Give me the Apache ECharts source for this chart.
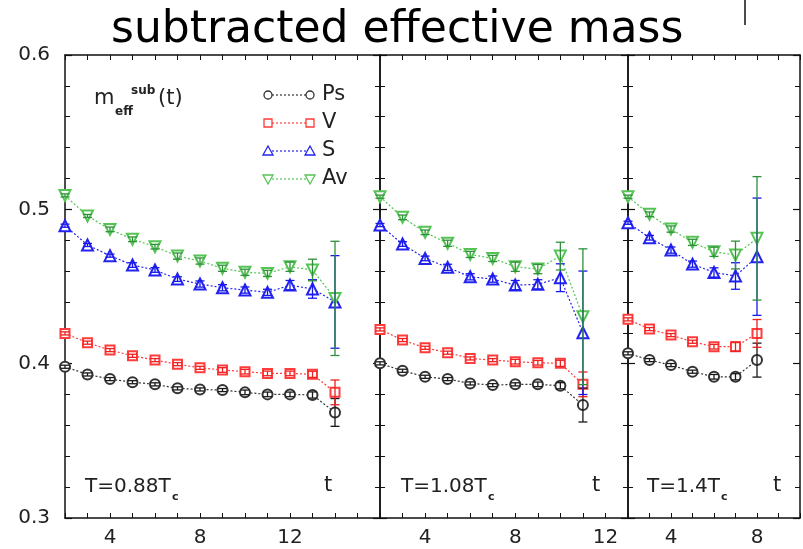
<!DOCTYPE html>
<html><head><meta charset="utf-8">
<script src="https://cdn.jsdelivr.net/npm/echarts@6/dist/echarts.min.js"></script>
<style>html,body{margin:0;padding:0;background:#fff}#c{width:803px;height:549px}</style>
</head><body><div id="c"></div>
<script>
// ---- data ----
const T1 = [2,3,4,5,6,7,8,9,10,11,12,13,14];
const PS1 = [0.398,0.393,0.390,0.388,0.3866,0.384,0.3833,0.3829,0.3814,0.3801,0.3801,0.3797,0.3684];
const V1  = [0.4196,0.4136,0.4088,0.4051,0.4023,0.3997,0.3973,0.3959,0.3948,0.3937,0.3937,0.3931,0.3814];
const S1  = [0.4894,0.4769,0.470,0.4639,0.4607,0.4548,0.4516,0.4492,0.4477,0.4462,0.4509,0.4484,0.440];
const AV1 = [0.509,0.4957,0.487,0.4806,0.4758,0.4697,0.4665,0.4618,0.4592,0.4585,0.4628,0.4607,0.4423];
const PS1E = [0.001,0.001,0.001,0.001,0.001,0.001,0.001,0.001,0.0015,0.0015,0.0015,0.002,0.009];
const V1E  = [0.001,0.001,0.001,0.001,0.001,0.001,0.001,0.0015,0.0015,0.0015,0.0015,0.002,0.008];
const S1E  = [0.001,0.001,0.001,0.0015,0.0015,0.0015,0.002,0.002,0.002,0.002,0.003,0.006,0.030];
const AV1E = [0.001,0.001,0.0015,0.0015,0.0015,0.002,0.002,0.002,0.002,0.002,0.003,0.007,0.037];

const T2 = [2,3,4,5,6,7,8,9,10,11];
const PS2 = [0.4002,0.3954,0.3915,0.390,0.3872,0.3861,0.3866,0.3866,0.3857,0.3732];
const V2  = [0.4222,0.4153,0.4103,0.4071,0.4034,0.4023,0.4013,0.4006,0.4002,0.3866];
const S2  = [0.4898,0.4775,0.4682,0.4624,0.4563,0.4548,0.4509,0.4514,0.4557,0.420];
const AV2 = [0.5082,0.4948,0.4851,0.478,0.4708,0.4682,0.4628,0.4613,0.4697,0.4304];
const PS2E = [0.001,0.001,0.001,0.001,0.001,0.001,0.001,0.0015,0.002,0.011];
const V2E  = [0.001,0.001,0.001,0.001,0.001,0.001,0.0015,0.0015,0.002,0.008];
const S2E  = [0.001,0.0015,0.0015,0.002,0.002,0.002,0.003,0.003,0.009,0.040];
const AV2E = [0.001,0.0015,0.0015,0.002,0.002,0.002,0.003,0.003,0.009,0.044];

const T3 = [2,3,4,5,6,7,8];
const PS3 = [0.4067,0.4023,0.3991,0.3948,0.3915,0.3915,0.4023];
const V3  = [0.4287,0.4224,0.4185,0.4142,0.411,0.411,0.4196];
const S3  = [0.4913,0.4816,0.4736,0.4645,0.4591,0.4568,0.4693];
const AV3 = [0.5082,0.4968,0.4872,0.4786,0.4725,0.4704,0.4812];
const PS3E = [0.001,0.001,0.001,0.001,0.0015,0.002,0.011];
const V3E  = [0.001,0.001,0.001,0.001,0.0015,0.003,0.009];
const S3E  = [0.001,0.0015,0.002,0.002,0.003,0.0086,0.038];
const AV3E = [0.001,0.0015,0.002,0.002,0.003,0.009,0.040];

const X_MIN = 2;
const X_MAX = [16, 13, 10];
const Y_MIN = 0.3, Y_MAX = 0.6, Y_STEP = 0.1;
const SERIES_NAMES = ['Ps','V','S','Av'];
const PANEL_TEMPS = ['T=0.88T','T=1.08T','T=1.4T'];
const TITLE = 'subtracted effective mass';

// ---- styling ----
const LINE_COL = ['#333333','#ff3b3b','#2323f0','#55c455'];
const ERR_COL  = ['#1a1a1a','#ee2020','#1818ee','#2f8f3a'];
const SYMBOL   = ['emptyCircle','emptyRect','emptyTriangle','emptyTriangle'];
const SYM_ROT  = [0,0,0,180];
const SYM_SIZE = [10,9,11,11];
const FONT = '"DejaVu Sans", sans-serif';

const panels = [
  {t:T1, vals:[PS1,V1,S1,AV1], errs:[PS1E,V1E,S1E,AV1E]},
  {t:T2, vals:[PS2,V2,S2,AV2], errs:[PS2E,V2E,S2E,AV2E]},
  {t:T3, vals:[PS3,V3,S3,AV3], errs:[PS3E,V3E,S3E,AV3E]}
];
const gridPos = [{left:65,width:315},{left:380,width:248},{left:628,width:178}];

const grid = gridPos.map(g => ({left:g.left, width:g.width, top:55, height:463}));
const axisLineStyle = {color:'#111', width:1.5};
const xAxis = [], yAxis = [];
for (let p=0;p<3;p++){
  xAxis.push({type:'value', gridIndex:p, min:X_MIN, max:X_MAX[p], interval:1, position:'bottom',
    axisLine:{show:true, onZero:false, lineStyle:axisLineStyle},
    axisTick:{show:true, inside:true, length:5, lineStyle:{color:'#111', width:1}},
    splitLine:{show:false},
    axisLabel:{show:true, fontFamily:FONT, fontSize:20, color:'#222', margin:10,
      formatter: v => (v%4===0 && v<X_MAX[p]) ? String(v) : ''}});
}
for (let p=0;p<3;p++){
  xAxis.push({type:'value', gridIndex:p, min:X_MIN, max:X_MAX[p], interval:1, position:'top',
    axisLine:{show:true, onZero:false, lineStyle:axisLineStyle},
    axisTick:{show:true, inside:true, length:5, lineStyle:{color:'#111', width:1}},
    splitLine:{show:false}, axisLabel:{show:false}});
}
for (let p=0;p<3;p++){
  yAxis.push({type:'value', gridIndex:p, min:Y_MIN, max:Y_MAX, interval:Y_STEP, position:'left',
    axisLine:{show:true, onZero:false, lineStyle:axisLineStyle},
    axisTick:{show:true, inside:true, length:7, lineStyle:{color:'#111', width:1.2}},
    minorTick:{show:true, splitNumber:5, length:5, lineStyle:{color:'#111', width:1}},
    splitLine:{show:false}, minorSplitLine:{show:false},
    axisLabel:{show:p===0, fontFamily:FONT, fontSize:20, color:'#222', margin:15,
      formatter: v => v.toFixed(1)}});
}
for (let p=0;p<3;p++){
  yAxis.push({type:'value', gridIndex:p, min:Y_MIN, max:Y_MAX, interval:Y_STEP, position:'right',
    axisLine:{show:true, onZero:false, lineStyle:axisLineStyle},
    axisTick:{show:true, inside:true, length:7, lineStyle:{color:'#111', width:1.2}},
    minorTick:{show:true, splitNumber:5, length:5, lineStyle:{color:'#111', width:1}},
    splitLine:{show:false}, axisLabel:{show:false}});
}

function errRender(color){
  return function(params, api){
    const lo = api.coord([api.value(0), api.value(1)]);
    const hi = api.coord([api.value(0), api.value(2)]);
    const w = 4.5;
    const st = {stroke:color, lineWidth:1.3};
    return {type:'group', children:[
      {type:'line', shape:{x1:lo[0],y1:lo[1],x2:hi[0],y2:hi[1]}, style:st},
      {type:'line', shape:{x1:lo[0]-w,y1:lo[1],x2:lo[0]+w,y2:lo[1]}, style:st},
      {type:'line', shape:{x1:hi[0]-w,y1:hi[1],x2:hi[0]+w,y2:hi[1]}, style:st}
    ]};
  };
}

const series = [];
panels.forEach((pn,p)=>{
  for (let k=0;k<4;k++){
    series.push({type:'line', name:SERIES_NAMES[k], xAxisIndex:p, yAxisIndex:p,
      data: pn.t.map((t,i)=>[t, pn.vals[k][i]]),
      symbol:SYMBOL[k], symbolRotate:SYM_ROT[k], symbolSize:SYM_SIZE[k], clip:false,
      itemStyle:{color:LINE_COL[k], borderWidth:1.2},
      lineStyle:{color:LINE_COL[k], width:1.2, type:[2,2]}, z:2});
    series.push({type:'custom', xAxisIndex:p, yAxisIndex:p, clip:false,
      data: pn.t.map((t,i)=>[t, pn.vals[k][i]-pn.errs[k][i], pn.vals[k][i]+pn.errs[k][i]]),
      encode:{x:0, y:[1,2]}, renderItem: errRender(ERR_COL[k]), z:3});
  }
});

// legend (drawn as graphic)
const graphic = [];
const legX1 = 268, legX2 = 310, legTextX = 322, legY = [95,123,151,179];
function legSymbol(k, cx, cy){
  const st = {fill:'#fff', stroke:LINE_COL[k], lineWidth:1.3};
  if (k===0) return {type:'circle', shape:{cx, cy, r:4}, style:st, z:10};
  if (k===1) return {type:'rect', shape:{x:cx-4, y:cy-4, width:8, height:8}, style:st, z:10};
  if (k===2) return {type:'polygon', shape:{points:[[cx,cy-5],[cx+5,cy+4],[cx-5,cy+4]]}, style:st, z:10};
  return {type:'polygon', shape:{points:[[cx,cy+5],[cx+5,cy-4],[cx-5,cy-4]]}, style:st, z:10};
}
for (let k=0;k<4;k++){
  graphic.push({type:'line', shape:{x1:legX1,y1:legY[k],x2:legX2,y2:legY[k]},
    style:{stroke:LINE_COL[k], lineWidth:1.2, lineDash:[2,2]}, z:9});
  graphic.push(legSymbol(k, legX1, legY[k]));
  graphic.push(legSymbol(k, legX2, legY[k]));
  graphic.push({type:'text', x:legTextX, y:legY[k], z:10,
    style:{text:SERIES_NAMES[k], font:'21px '+FONT, fill:'#222', verticalAlign:'middle'}});
}
// m_eff^sub(t)
graphic.push({type:'text', x:94, y:99, style:{text:'m', font:'21px '+FONT, fill:'#222', verticalAlign:'middle'}});
graphic.push({type:'text', x:115, y:112, style:{text:'eff', font:'bold 12px '+FONT, fill:'#222', verticalAlign:'middle'}});
graphic.push({type:'text', x:131, y:91, style:{text:'sub', font:'bold 12px '+FONT, fill:'#222', verticalAlign:'middle'}});
graphic.push({type:'text', x:158, y:99, style:{text:'(t)', font:'21px '+FONT, fill:'#222', verticalAlign:'middle'}});
// temperature labels and "t"
const tempX = [85, 401, 647], cX = [172, 488, 721], tX = [324, 592, 773];
for (let p=0;p<3;p++){
  graphic.push({type:'text', x:tempX[p], y:487, style:{text:PANEL_TEMPS[p], font:'20px '+FONT, fill:'#222', verticalAlign:'middle'}});
  graphic.push({type:'text', x:cX[p], y:497, style:{text:'c', font:'bold 11px '+FONT, fill:'#222', verticalAlign:'middle'}});
  graphic.push({type:'text', x:tX[p], y:486, style:{text:'t', font:'21px '+FONT, fill:'#222', verticalAlign:'middle'}});
}
// stray vertical mark near the title
graphic.push({type:'line', shape:{x1:745,y1:0,x2:745,y2:25}, style:{stroke:'#111', lineWidth:1.5}});

const chart = echarts.init(document.getElementById('c'), null, {renderer:'canvas'});
chart.setOption({
  animation:false,
  backgroundColor:'#fff',
  title:{text:TITLE, left:106, top:4, textStyle:{fontFamily:'DejaVu Sans', fontSize:44, fontWeight:'normal', color:'#000'}},
  grid, xAxis, yAxis, series, graphic
});
</script></body></html>
